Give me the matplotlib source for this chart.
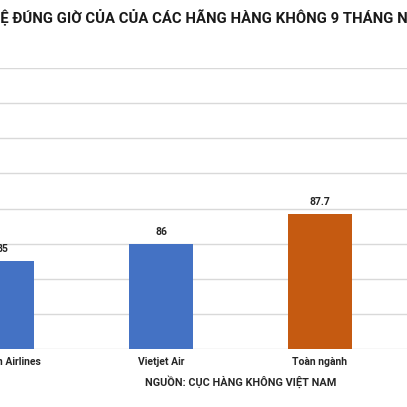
import matplotlib
matplotlib.use("Agg")
import matplotlib.pyplot as plt

# Tỷ lệ cất cánh đúng giờ (%), 9 tháng
hang_bay = ["Vietnam Airlines", "Vietjet Air", "Toàn ngành"]
ty_le = [85, 86, 87.7]
mau = ["#4472C4", "#4472C4", "#C55A11"]
tieu_de = "TỶ LỆ ĐÚNG GIỜ CỦA CỦA CÁC HÃNG HÀNG KHÔNG 9 THÁNG NĂM 2019"
nguon = "NGUỒN: CỤC HÀNG KHÔNG VIỆT NAM"

plt.rcParams['font.family'] = ['Roboto', 'DejaVu Sans']

fig = plt.figure(figsize=(4.07, 4.07), dpi=100)
# the picture is a crop of a wider chart, so the axes run past the edges
ax = fig.add_axes([0, 58 / 407, 1, 281 / 407])

x = list(range(len(hang_bay)))
ax.bar(x, ty_le, width=0.40, color=mau, zorder=2)
for xi, v in zip(x, ty_le):
    ax.text(xi, v + 0.4, "%g" % v, ha='center', va='bottom',
            fontsize=7.5, fontweight='bold', color='#262626')

ax.set_ylim(80, 96)
ax.set_yticks(range(80, 97, 2))
ax.set_xlim(-2 / 159, 405 / 159)
ax.grid(axis='y', color='#D9D9D9', linewidth=1.0, zorder=0)
ax.tick_params(axis='y', left=False, labelleft=False)
ax.tick_params(axis='x', length=0, pad=5.5)
ax.set_xticks(x)
ax.set_xticklabels(hang_bay, fontsize=7.5, fontweight='bold', color='#262626')
for s in ax.spines.values():
    s.set_visible(False)

ax.set_xlabel(nguon, fontsize=7.8, fontweight='bold', color='#262626')
ax.xaxis.set_label_coords(241 / 407, -33 / 281)
ax.xaxis.label.set_va('center')

# title: sized so "Ệ ... THÁNG N" spans the width, "Ệ" starting at the left border
r = fig.canvas.get_renderer()
tmp = fig.text(0, 0, "Ệ ĐÚNG GIỜ CỦA CỦA CÁC HÃNG HÀNG KHÔNG 9 THÁNG N",
               fontsize=10, fontweight='bold')
fs = 10 * 405 / tmp.get_window_extent(r).width
tmp.set_text("TỶ L")
tmp.set_fontsize(fs)
w = tmp.get_window_extent(r).width
tmp.remove()
fig.text(-w / 407, 1 - 17 / 407, tieu_de, ha='left', va='center',
         fontsize=fs, fontweight='bold', color='#1a1a1a')

fig.savefig("out.png", dpi=100)
